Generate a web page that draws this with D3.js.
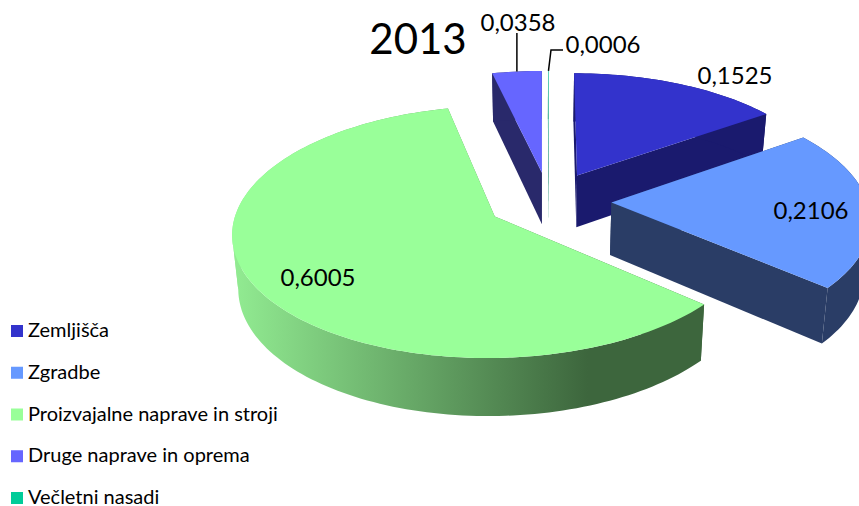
<!DOCTYPE html>
<html>
<head>
<meta charset="utf-8">
<script src="https://cdn.jsdelivr.net/npm/d3@7/dist/d3.min.js"></script>
<style>
html,body{margin:0;padding:0;background:#fff;overflow:hidden}
svg{display:block}
text{font-family:Lato,"Open Sans",sans-serif;fill:#000}
</style>
</head>
<body>
<svg id="c" width="859" height="506"></svg>
<script>
const categories = ["Zemljišča","Zgradbe","Proizvajalne naprave in stroji","Druge naprave in oprema","Večletni nasadi"];
const values = [0.1525,0.2106,0.6005,0.0358,0.0006];
const title = "2013";
const topColors = ["#3333CC","#6699FF","#99FF99","#6666FF","#00CC99"];
const wallColors = ["#1a1a6e","#2a3d66","url(#greenWall)","#29296b","#2a8f78"];
const sliceTopColors = ["#3333CC","#6699FF","#99FF99","#6666FF","#66DDC4"];
const labelAnchors = [[735,74],[811,209],[318,276],[518,21],[603,43]];

const W=859,H=506;
const svg=d3.select("#c");
const defs=svg.append("defs");
const grad=defs.append("linearGradient").attr("id","greenWall")
  .attr("gradientUnits","userSpaceOnUse").attr("x1",232).attr("x2",700).attr("y1",0).attr("y2",0);
[[0,"#92ec92"],[0.76,"#3d663d"],[1,"#3d663d"]].forEach(s=>grad.append("stop").attr("offset",s[0]).attr("stop-color",s[1]));

// projection of the tilted disk
const x0=549,y0=201,R=255.8,Ry=120.4,k=0.121,explode=0.244;
const vanishX=540,shrink=0.02;
function proj(U,V){const w=1/(1-k*V);return {x:x0+R*U*w,y:y0+Ry*V*w,w};}
function down(p){return [p.x-(p.x-vanishX)*shrink,p.y+18+34.6*p.w];}

const pie=d3.pie().sort(null).startAngle(0).endAngle(2*Math.PI);
const arcs=pie(values);
const line=d3.line();
const order=[0,3,4,1,2];

order.forEach(i=>{
  const a=arcs[i];
  const mid=(a.startAngle+a.endAngle)/2;
  const ox=explode*Math.sin(mid),oy=-explode*Math.cos(mid);
  const pt=t=>proj(ox+Math.sin(t),oy-Math.cos(t));
  const apex=proj(ox,oy);
  const steps=Math.max(2,Math.ceil((a.endAngle-a.startAngle)*40));
  const ts=d3.range(0,steps+1).map(j=>a.startAngle+(a.endAngle-a.startAngle)*j/steps);
  const rim=ts.map(pt);
  const g=svg.append("g");
  const wall=wallColors[i];
  const band=pts=>g.append("path")
    .attr("d",line([...pts.map(p=>[p.x,p.y]),...pts.slice().reverse().map(down)])+"Z")
    .attr("fill",wall);
  band([apex,rim[0]]);
  band([apex,rim[rim.length-1]]);
  // split the curved wall where its horizontal direction turns, so each run is a simple band
  let start=0;
  for(let j=1;j<rim.length-1;j++){
    if((rim[j].x-rim[j-1].x)*(rim[j+1].x-rim[j].x)<0){band(rim.slice(start,j+1));start=j;}
  }
  band(rim.slice(start));
  g.append("path").attr("d",line([[apex.x,apex.y],...rim.map(p=>[p.x,p.y])])+"Z").attr("fill",sliceTopColors[i]);
});

// leader lines
const rimTop=(i,t)=>{const a=arcs[i],mid=(a.startAngle+a.endAngle)/2;
  return proj(explode*Math.sin(mid)+Math.sin(t),-explode*Math.cos(mid)-Math.cos(t));};
const m3=(arcs[3].startAngle+arcs[3].endAngle)/2;
const p3=rimTop(3,m3);
svg.append("path").attr("d",line([[p3.x,33],[p3.x,p3.y]])).attr("fill","none").attr("stroke","#000").attr("stroke-width",1.5);
const p4=rimTop(4,(arcs[4].startAngle+arcs[4].endAngle)/2);
svg.append("path").attr("d",line([[563,50],[551,50],[p4.x,p4.y]])).attr("fill","none").attr("stroke","#000").attr("stroke-width",1.5);

// value labels
values.forEach((v,i)=>{
  svg.append("text").attr("x",labelAnchors[i][0]).attr("y",labelAnchors[i][1])
    .attr("text-anchor","middle").attr("dominant-baseline","central")
    .style("font-size","24px").text(v.toFixed(4).replace(".",","));
});
svg.append("text").attr("x",418).attr("y",38).attr("text-anchor","middle").attr("dominant-baseline","central")
  .style("font-size","42px").text(title);

// legend
const ly=d3.scaleLinear().domain([0,categories.length-1]).range([331,498]);
categories.forEach((c,i)=>{
  svg.append("rect").attr("x",11).attr("y",ly(i)-6).attr("width",12).attr("height",12).attr("fill",topColors[i]);
  svg.append("text").attr("x",28).attr("y",ly(i)+6)
    .style("font-size","20px").text(c);
});
</script>
</body>
</html>
